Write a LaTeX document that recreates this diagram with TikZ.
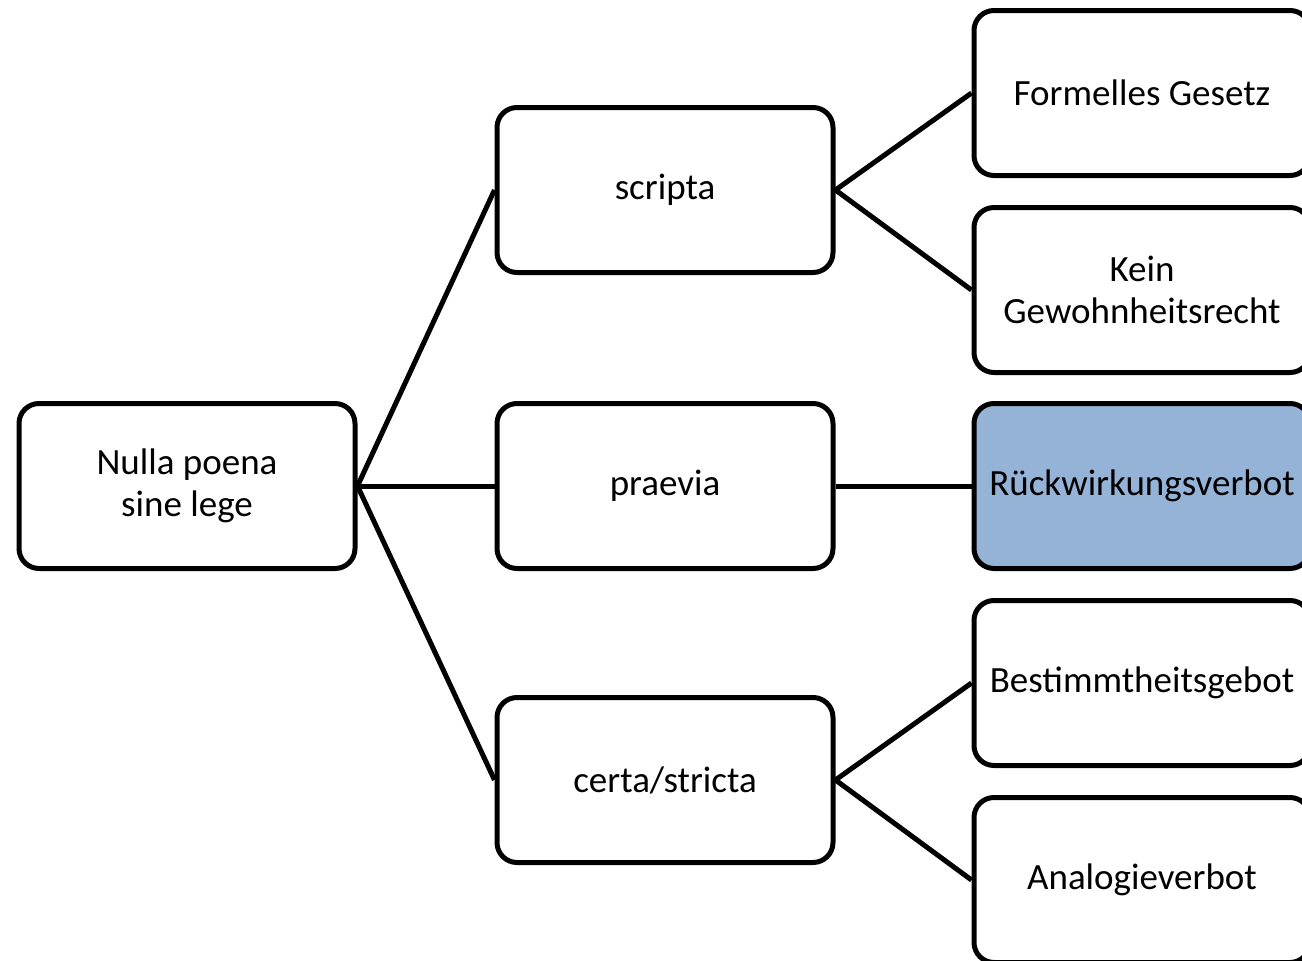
\documentclass[tikz,border=0pt]{standalone}
\usepackage{fontspec}
\setmainfont{Carlito}
\definecolor{boxblue}{RGB}{149,179,215}
\begin{document}
\begin{tikzpicture}[x=1pt,y=-1pt,
  box/.style={draw=black, line width=5pt, rounded corners=20pt, fill=white,
    minimum width=336pt, minimum height=165pt, align=center, inner sep=0pt,
    font=\fontsize{37}{42}\selectfont},
  link/.style={line width=5pt}]
\useasboundingbox (0,0) rectangle (1302,961);
\clip (0,0) rectangle (1302,961);
% root and first level
\node[box] (root) at (187,486) {Nulla poena\\sine lege};
\node[box] (scripta) at (665,190) {scripta};
\node[box] (praevia) at (665,486) {praevia};
\node[box] (certa) at (665,780) {certa/stricta};
% second level
\node[box] (formell) at (1142,93) {Formelles Gesetz};
\node[box] (kein) at (1142,290) {Kein\\Gewohnheitsrecht};
\node[box, fill=boxblue] (rueck) at (1142,486) {Rückwirkungsverbot};
\node[box] (bestimmt) at (1142,683) {Bestimmtheitsgebot};
\node[box] (analogie) at (1142,880) {Analogieverbot};
% connectors
\draw[link] (root.east) -- (scripta.west);
\draw[link] (root.east) -- (praevia.west);
\draw[link] (root.east) -- (certa.west);
\draw[link] (scripta.east) -- (formell.west);
\draw[link] (scripta.east) -- (kein.west);
\draw[link] (praevia.east) -- (rueck.west);
\draw[link] (certa.east) -- (bestimmt.west);
\draw[link] (certa.east) -- (analogie.west);
\end{tikzpicture}
\end{document}
